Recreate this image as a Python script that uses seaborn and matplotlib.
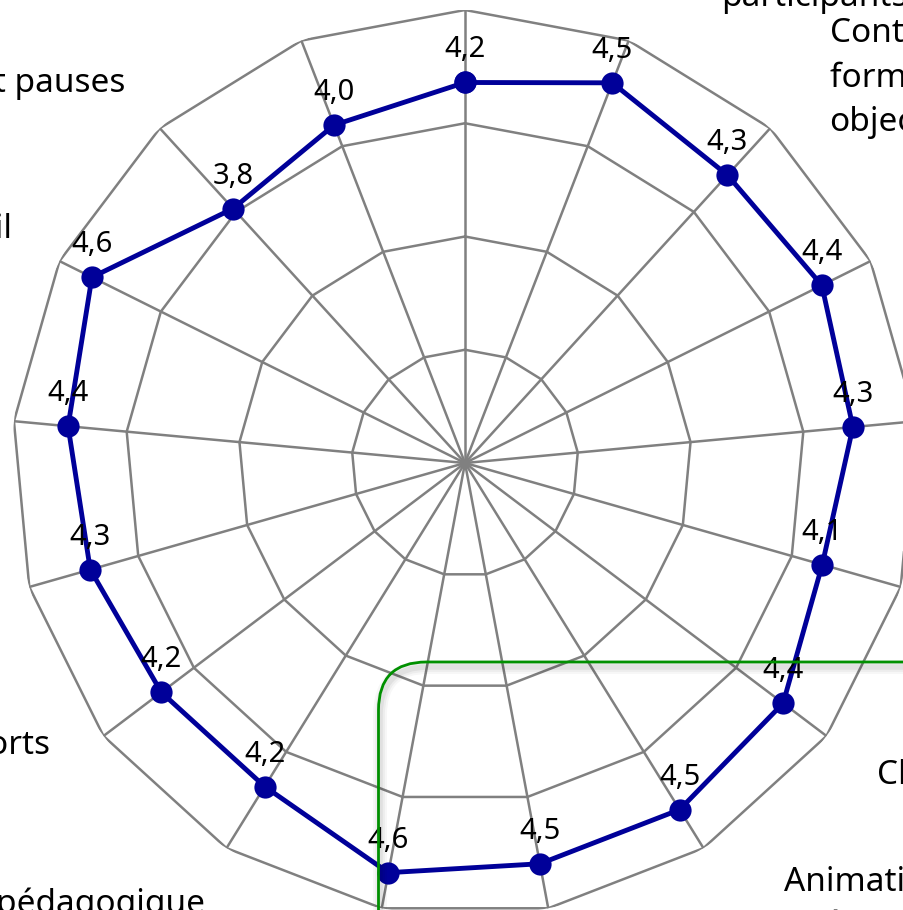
import numpy as np
import pandas as pd
import matplotlib
matplotlib.use("Agg")
import matplotlib.pyplot as plt
import seaborn as sns
from matplotlib.patches import FancyBboxPatch

# Survey criteria, clockwise from the top
categories = [
    "Organisation",
    "Interactivité et écoute des\nparticipants",
    "Contenu de la\nformation adapté aux\nobjectifs",
    "Atteinte des\nobjectifs fixés",
    "Maîtrise du sujet\npar le formateur",
    "Utilité pour\nla pratique",
    "Clarté des explications",
    "Animation des\néchanges",
    "Durée de la formation",
    "Satisfaction globale",
    "Démarche pédagogique",
    "Qualité des supports",
    "Exercices pratiques",
    "Conditions matérielles",
    "Accueil",
    "Rythme et pauses",
    "Horaires",
]
# Average score per criterion (scale 0-5)
scores = [4.2, 4.5, 4.3, 4.4, 4.3, 4.1, 4.4, 4.5, 4.5, 4.6, 4.2, 4.2, 4.3, 4.4, 4.6, 3.8, 4.0]
grid_levels = [1.25, 2.5, 3.75, 5.0]
r_max = 5.0

# label nudges in pixels (dx, dy downwards)
label_nudge = {1: (-38, -12), 2: (21, -8), 6: (5, 5), 7: (51, 8), 10: (8, 8),
               11: (-8, -25), 14: (4, -6), 15: (4, -3)}
label_multialign = {2: "left"}

W, H, DPI = 904, 910, 100
sns.set_style("white")
plt.rcParams["font.family"] = ["Noto Sans", "DejaVu Sans"]

fig = plt.figure(figsize=(W / DPI, H / DPI), dpi=DPI)
cx, cy, R = 465, 463, 453
ax = fig.add_axes([(cx - R) / W, (H - cy - R) / H, 2 * R / W, 2 * R / H], projection="polar")
ax.set_theta_zero_location("N")
ax.set_theta_direction(-1)
ax.set_ylim(0, r_max)
ax.grid(False)
ax.set_xticks([])
ax.set_yticks([])
ax.spines["polar"].set_visible(False)
ax.patch.set_alpha(0)

n = len(categories)
theta = np.arange(n) * 2 * np.pi / n
theta_closed = np.append(theta, 2 * np.pi)

grid_color = "#808080"
for lev in grid_levels:
    ax.plot(theta_closed, [lev] * (n + 1), color=grid_color, lw=1.8, zorder=1)
for t in theta:
    ax.plot([t, t], [0, r_max], color=grid_color, lw=1.8, zorder=1)

df = pd.DataFrame({"angle": theta_closed, "score": scores + scores[:1]})
line_color = "#000099"
sns.lineplot(data=df, x="angle", y="score", sort=False, estimator=None, ax=ax,
             color=line_color, linewidth=3.5, marker="o", markersize=16,
             markeredgewidth=0, zorder=3, clip_on=False)
ax.set_xlabel("")
ax.set_ylabel("")

# value labels above each point
for t, v in zip(theta, scores):
    ax.annotate(f"{v:.1f}".replace(".", ","), xy=(t, v), xytext=(0, 18),
                textcoords="offset points", ha="center", va="baseline",
                fontsize=21, color="black", zorder=4, annotation_clip=False)

# criterion names around the web
r_label = r_max * 510 / R
for i, (t, name) in enumerate(zip(theta, categories)):
    s = np.sin(t)
    ha = "left" if s > 0.05 else ("right" if s < -0.05 else "center")
    dx, dy = label_nudge.get(i, (0, 0))
    ax.annotate(name, xy=(t, r_label), xytext=(dx * 0.72, -dy * 0.72),
                textcoords="offset points", ha=ha, va="center",
                multialignment=label_multialign.get(i, "center"),
                fontsize=24, color="black", linespacing=1.42,
                annotation_clip=False)

# tooltip frame drawn in pixel space
over = fig.add_axes([0, 0, 1, 1], zorder=5)
over.set_xlim(0, W)
over.set_ylim(H, 0)
over.axis("off")
over.patch.set_alpha(0)
for lw, a in [(10, 0.03), (7, 0.04), (4, 0.05)]:
    over.add_patch(FancyBboxPatch((380, 667), 700, 400,
                                  boxstyle="round,pad=0,rounding_size=48",
                                  fc="none", ec="black", lw=lw, alpha=a))
over.add_patch(FancyBboxPatch((378.5, 662), 700, 400,
                              boxstyle="round,pad=0,rounding_size=48",
                              fc="none", ec="#009000", lw=2))

fig.savefig("out.png", dpi=DPI)
